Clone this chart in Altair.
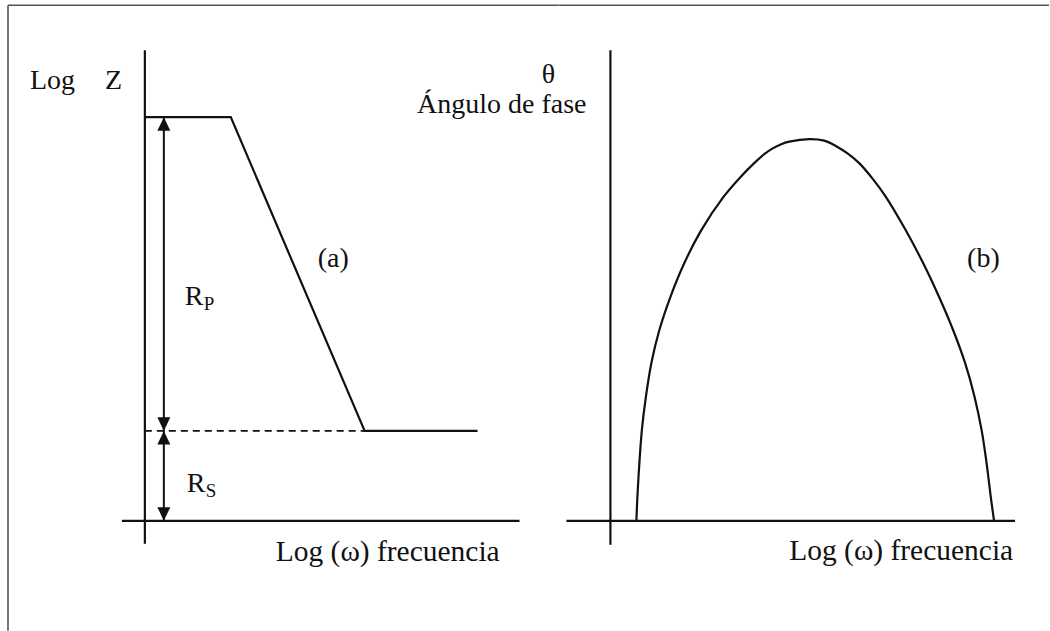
import altair as alt
import pandas as pd

FONT = "Liberation Serif"
INK = "#111111"
FRAME = "#555555"

# ---------------- data (arbitrary log units) ----------------
# (a) log|Z| against log(omega): plateau R_S + R_P, slope, plateau R_S
z_x = [0.0, 8.6, 22.0, 33.3]
z_y = [40.4, 40.4, 9.0, 9.0]
rs_level = 9.0
rp_level = 40.4
arrow_x = 1.9

# (b) phase angle against log(omega)
phase_x = [2.6, 2.7, 2.9, 3.15, 3.55, 4.1, 4.9, 6.0, 7.4, 9.1, 11.3, 13.1,
           14.5, 15.4, 16.2, 17.1, 17.9, 19.9, 21.4, 22.6, 23.7, 24.9, 26.2,
           27.57, 29.55, 31.3, 32.9, 34.3, 35.5, 36.45, 37.15, 37.65, 38.07,
           38.4]
phase_y = [0.0, 2.4, 5.8, 9.1, 12.4, 15.8, 19.1, 22.4, 25.8, 29.1, 32.4, 34.5,
           35.9, 36.7, 37.25, 37.7, 37.95, 38.2, 38.05, 37.5, 36.8, 35.8, 34.3,
           32.43, 29.1, 25.8, 22.4, 19.1, 15.8, 12.4, 9.1, 5.8, 2.4,
           0.0]

# panel geometry and scale domains
W_LEFT, W_RIGHT, H = 560, 490, 631
y_dom = [-11.0, 52.1]
xl_dom = [-14.5, 41.5]
xr_dom = [-5.1, 43.9]

ys = alt.Scale(domain=y_dom, nice=False, zero=False)
xls = alt.Scale(domain=xl_dom, nice=False, zero=False)
xrs = alt.Scale(domain=xr_dom, nice=False, zero=False)


def segments(rows, xs, color=INK, width=2.0, dash=None):
    df = pd.DataFrame(rows, columns=["x", "x2", "y", "y2"])
    kw = dict(color=color, strokeWidth=width)
    if dash:
        kw["strokeDash"] = dash
    return alt.Chart(df).mark_rule(**kw).encode(
        x=alt.X("x:Q", scale=xs, axis=None),
        x2="x2:Q",
        y=alt.Y("y:Q", scale=ys, axis=None),
        y2="y2:Q",
    )


def labels(rows, xs, size=28, align="left"):
    df = pd.DataFrame(rows, columns=["x", "y", "t"])
    return alt.Chart(df).mark_text(
        font=FONT, fontSize=size, align=align, baseline="alphabetic", color=INK
    ).encode(
        x=alt.X("x:Q", scale=xs, axis=None),
        y=alt.Y("y:Q", scale=ys, axis=None),
        text="t:N",
    )


def heads(rows, xs, path):
    df = pd.DataFrame(rows, columns=["x", "y"])
    return alt.Chart(df).mark_point(
        shape=path, filled=True, size=169, color=INK, opacity=1, strokeWidth=0
    ).encode(
        x=alt.X("x:Q", scale=xs, axis=None),
        y=alt.Y("y:Q", scale=ys, axis=None),
    )


UP = "M0,0L-1,2.1L1,2.1Z"
DOWN = "M0,0L-1,-2.1L1,-2.1Z"

# ---------------- panel (a) ----------------
frame_left = segments(
    [[-13.7, 41.5, 51.6, 51.6], [-13.7, -13.7, 51.6, -11.0]], xls,
    color=FRAME, width=1.6)
axes_left = segments([[0, 0, -2.3, 47.1], [-2.3, 37.5, 0, 0]], xls, width=2.2)
dashed = segments([[0, z_x[2], rs_level, rs_level]], xls, width=1.6, dash=[7, 5])
shafts = segments([[arrow_x, arrow_x, 0, rp_level]], xls, width=2.0)

z_df = pd.DataFrame({"x": z_x, "y": z_y, "o": range(len(z_x))})
z_line = alt.Chart(z_df).mark_line(color=INK, strokeWidth=2.2).encode(
    x=alt.X("x:Q", scale=xls, axis=None),
    y=alt.Y("y:Q", scale=ys, axis=None),
    order="o:Q",
)

up_heads = heads([[arrow_x, rp_level], [arrow_x, rs_level]], xls, UP)
down_heads = heads([[arrow_x, rs_level], [arrow_x, 0.0]], xls, DOWN)

text_left = labels(
    [[-11.5, 43.2, "Log"], [-4.0, 43.2, "Z"],
     [4.0, 21.6, "R"], [4.2, 2.9, "R"],
     [17.3, 25.4, "(a)"]], xls)
freq_left = labels([[13.1, -4.0, "Log (ω) frecuencia"]], xls, size=29.5)
subs_left = labels([[5.9, 21.1, "P"], [6.1, 2.4, "S"]], xls, size=19)

left = alt.layer(
    frame_left, axes_left, dashed, shafts, z_line, up_heads, down_heads,
    text_left, freq_left, subs_left,
).properties(width=W_LEFT, height=H)

# ---------------- panel (b) ----------------
frame_right = segments([[-5.1, 43.9, 51.6, 51.6]], xrs, color=FRAME, width=1.6)
axes_right = segments([[0, 0, -2.4, 47.1], [-4.4, 40.5, 0, 0]], xrs, width=2.2)

ph_df = pd.DataFrame({"x": phase_x, "y": phase_y, "o": range(len(phase_x))})
phase_line = alt.Chart(ph_df).mark_line(
    color=INK, strokeWidth=2.2, interpolate="catmull-rom"
).encode(
    x=alt.X("x:Q", scale=xrs, axis=None),
    y=alt.Y("y:Q", scale=ys, axis=None),
    order="o:Q",
)

theta = labels([[-6.2, 43.8, "θ"]], xrs, align="center")
phase_title = labels([[-2.4, 40.8, "Ángulo de fase"]], xrs, align="right")
text_right = labels([[35.7, 25.4, "(b)"]], xrs)
freq_right = labels([[17.9, -3.9, "Log (ω) frecuencia"]], xrs, size=29.5)

right = alt.layer(
    frame_right, axes_right, phase_line, theta, phase_title, text_right,
    freq_right,
).properties(width=W_RIGHT, height=H)

chart = alt.hconcat(left, right, spacing=0, bounds="flush").properties(
    padding=0,
    background="white",
).configure_view(stroke=None)

chart.save("out.html", embed_options={"renderer": "svg", "actions": False})
